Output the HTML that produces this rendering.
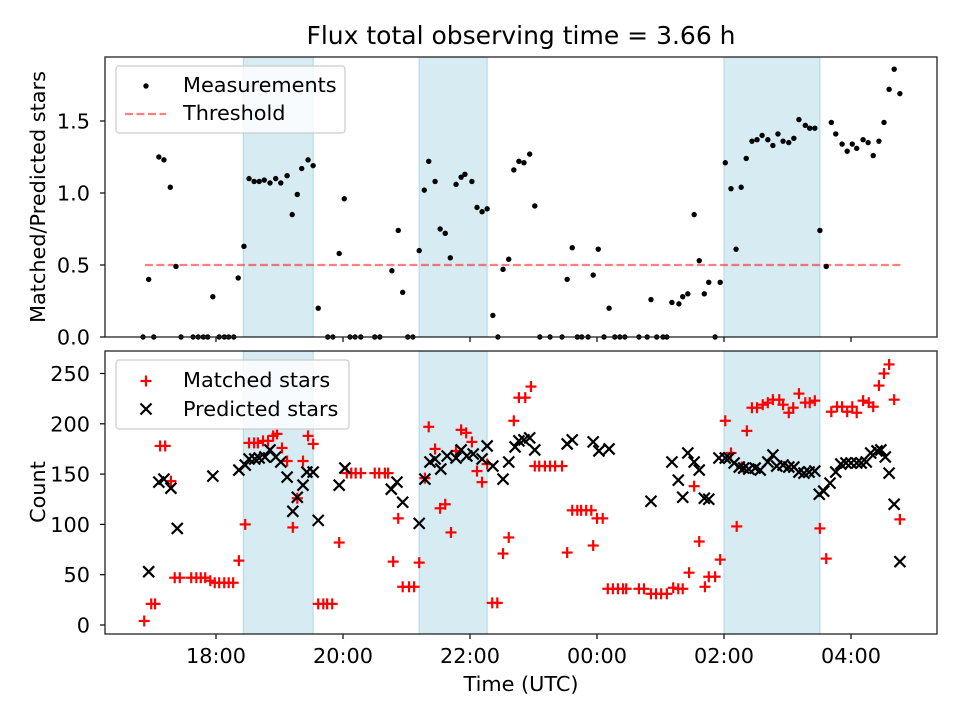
<!DOCTYPE html>
<html><head><meta charset="utf-8"><style>
body{margin:0;background:#fff}
svg{display:block;font-family:"DejaVu Sans","Liberation Sans",sans-serif}
</style></head><body>
<svg id="fig" width="960" height="720" viewBox="0 0 960 720" xmlns="http://www.w3.org/2000/svg">
<rect width="960" height="720" fill="#fff"/>
<text x="521" y="44" font-size="25" text-anchor="middle">Flux total observing time = 3.66 h</text>
<g id="top"></g>
<g id="bot"></g>
</svg>
<script>
// hours since 16:00 UTC
const shadeStart=[2.43,5.2,10.0];
const shadeEnd=[3.53,6.27,11.51];
const threshold=0.5;
const thrStart=0.88, thrEnd=12.79;
const xTickHours=[2,4,6,8,10,12];
const xTickLabels=["18:00","20:00","22:00","00:00","02:00","04:00"];
const topTicks=[0,0.5,1.0,1.5];
const topTickLabels=["0.0","0.5","1.0","1.5"];
const botTicks=[0,50,100,150,200,250];
const botTickLabels=["0","50","100","150","200","250"];

const measT=[0.85,0.94,1.02,1.10,1.18,1.28,1.37,1.45,1.64,1.72,1.80,1.87,1.95,2.05,2.13,2.20,2.28,2.35,2.44,2.52,2.60,2.68,2.76,2.85,2.94,3.02,3.12,3.20,3.28,3.35,3.45,3.53,3.61,3.76,3.84,3.94,4.02,4.11,4.19,4.28,4.50,4.58,4.77,4.87,4.94,5.02,5.10,5.20,5.28,5.35,5.45,5.53,5.61,5.69,5.78,5.86,5.92,6.03,6.11,6.19,6.27,6.36,6.44,6.52,6.61,6.69,6.77,6.85,6.94,7.02,7.10,7.26,7.45,7.53,7.61,7.69,7.76,7.86,7.94,8.02,8.11,8.19,8.28,8.36,8.44,8.66,8.79,8.85,8.94,9.04,9.10,9.18,9.29,9.35,9.43,9.53,9.61,9.69,9.76,9.86,9.94,10.02,10.11,10.19,10.27,10.35,10.44,10.52,10.60,10.69,10.77,10.85,10.93,11.02,11.10,11.18,11.28,11.35,11.43,11.51,11.61,11.69,11.76,11.86,11.94,12.02,12.09,12.19,12.27,12.35,12.44,12.52,12.60,12.68,12.77];
const measV=[0,0.40,0,1.25,1.23,1.04,0.49,0,0,0,0,0,0.28,0,0,0,0,0.41,0.63,1.10,1.08,1.08,1.09,1.07,1.10,1.07,1.12,0.85,0.99,1.17,1.23,1.19,0.20,0,0,0.58,0.96,0,0,0,0,0,0.46,0.74,0.31,0,0,0.60,1.02,1.22,1.08,0.75,0.72,0.55,1.06,1.11,1.13,1.08,0.90,0.87,0.89,0.15,0,0.47,0.54,1.16,1.22,1.21,1.27,0.91,0,0,0,0.40,0.62,0,0,0,0.43,0.61,0,0.20,0,0,0,0,0,0.26,0,0,0,0.24,0.23,0.28,0.30,0.85,0.53,0.30,0.38,0,0.38,1.21,1.03,0.61,1.04,1.24,1.36,1.37,1.40,1.37,1.33,1.41,1.36,1.35,1.38,1.51,1.47,1.45,1.45,0.74,0.49,1.49,1.41,1.34,1.29,1.34,1.31,1.37,1.35,1.26,1.36,1.49,1.72,1.86,1.69];

const matchT=[0.87,0.98,1.04,1.12,1.20,1.29,1.35,1.43,1.61,1.69,1.76,1.83,1.91,1.98,2.05,2.13,2.20,2.27,2.36,2.46,2.52,2.60,2.66,2.74,2.82,2.90,2.96,3.04,3.12,3.21,3.28,3.37,3.45,3.53,3.61,3.69,3.75,3.83,3.94,4.06,4.13,4.20,4.28,4.50,4.57,4.66,4.71,4.79,4.87,4.94,5.04,5.12,5.20,5.29,5.35,5.45,5.53,5.61,5.70,5.78,5.86,5.94,6.03,6.11,6.19,6.27,6.35,6.43,6.52,6.61,6.69,6.77,6.87,6.96,7.02,7.09,7.18,7.26,7.34,7.45,7.53,7.61,7.69,7.75,7.83,7.91,7.94,8.00,8.09,8.17,8.25,8.33,8.41,8.46,8.66,8.74,8.85,8.93,9.01,9.10,9.20,9.28,9.35,9.45,9.53,9.61,9.70,9.76,9.86,9.94,10.02,10.11,10.20,10.28,10.36,10.44,10.52,10.61,10.69,10.77,10.87,10.93,11.02,11.09,11.18,11.28,11.35,11.43,11.51,11.61,11.69,11.78,11.86,11.94,12.02,12.09,12.19,12.28,12.35,12.44,12.52,12.60,12.68,12.77];
const matchV=[4,21,21,178,178,143,47,47,47,47,47,47,44,42,42,42,42,42,64,100,181,181,181,183,183,188,190,176,163,97,126,163,188,180,21,21,21,21,82,151,151,151,151,151,151,151,151,63,106,38,38,38,62,146,197,175,116,120,92,173,194,191,182,153,142,160,22,22,71,87,203,226,226,237,158,158,158,158,158,158,72,114,114,114,114,114,79,106,106,36,36,36,36,36,36,36,31,31,31,31,37,36,36,52,138,83,38,48,48,65,203,171,98,157,193,216,216,219,221,224,224,219,211,216,230,221,221,223,96,66,212,217,217,212,217,211,223,221,217,238,250,259,224,105];

const predT=[0.94,1.10,1.18,1.29,1.39,1.95,2.36,2.46,2.52,2.61,2.68,2.77,2.85,2.94,3.02,3.12,3.21,3.28,3.37,3.43,3.53,3.61,3.94,4.03,4.76,4.85,4.94,5.20,5.29,5.37,5.45,5.54,5.64,5.78,5.86,5.95,6.05,6.19,6.27,6.36,6.52,6.61,6.71,6.77,6.85,6.94,7.02,7.53,7.61,7.94,8.03,8.19,8.85,9.18,9.28,9.35,9.43,9.53,9.61,9.69,9.76,9.92,10.02,10.08,10.16,10.24,10.31,10.39,10.49,10.57,10.69,10.77,10.83,10.93,11.02,11.10,11.18,11.26,11.34,11.43,11.50,11.57,11.67,11.76,11.84,11.92,12.00,12.09,12.16,12.24,12.31,12.41,12.47,12.54,12.60,12.68,12.77];
const predV=[53,142,145,136,96,148,154,159,165,165,166,167,174,167,162,147,113,127,139,152,152,104,139,156,135,142,122,101,145,162,165,155,168,166,174,168,170,165,178,158,145,162,177,183,184,186,174,180,184,182,173,175,123,162,144,127,171,162,154,126,125,166,166,166,161,157,156,155,156,154,162,169,158,159,157,157,152,151,152,153,130,133,141,152,160,161,161,161,161,162,171,173,174,167,151,120,63];

const NS="http://www.w3.org/2000/svg";
const L=105,R=937;
const FS=20.8;
const xs=h=>89+63.5*h;
function el(p,tag,a){const e=document.createElementNS(NS,tag);for(const k in a)e.setAttribute(k,a[k]);p.appendChild(e);return e;}
function txt(p,s,a){const e=el(p,'text',a);e.textContent=s;return e;}

function panel(g,T,B,ticks,labels,ys,showX){
  for(let i=0;i<shadeStart.length;i++){
    const r=el(g,'rect',{x:xs(shadeStart[i]),y:T,width:xs(shadeEnd[i])-xs(shadeStart[i]),height:B-T,fill:'#add8e6','fill-opacity':0.5,stroke:'#add8e6','stroke-width':1});
    
    
  }
  ticks.forEach((t,i)=>{
    const y=ys(t);
    el(g,'line',{x1:L-5,x2:L,y1:y,y2:y,stroke:'#000','stroke-width':1.2});
    const tl=txt(g,labels[i],{x:L-15,y:y+7.5,'font-size':FS,'text-anchor':'end'});
    
    
  });
  xTickHours.forEach((h,i)=>{
    el(g,'line',{x1:xs(h),x2:xs(h),y1:B,y2:B+5,stroke:'#000','stroke-width':1.2});
    if(showX){
      const tl=txt(g,xTickLabels[i],{x:xs(h),y:B+29,'font-size':FS,'text-anchor':'middle'});
      
      
    }
  });
}
function frame(g,T,B){el(g,'rect',{x:L,y:T,width:R-L,height:B-T,fill:'none',stroke:'#222','stroke-width':1.3});}

// top panel
const gt=document.getElementById('top');
const T1=57,B1=337; const y1=v=>B1-144*v;
panel(gt,T1,B1,topTicks,topTickLabels,y1,false);
const thr=el(gt,'line',{x1:xs(thrStart),x2:xs(thrEnd),y1:y1(threshold),y2:y1(threshold),stroke:'#ff0000','stroke-opacity':0.5,'stroke-width':2.2,'stroke-dasharray':'8,3.5'});


measT.forEach((t,i)=>{
  const c=el(gt,'circle',{cx:xs(t),cy:y1(measV[i]),r:2.7,fill:'#000'});
  
  
});
frame(gt,T1,B1);
const yt1=txt(gt,'Matched/Predicted stars',{x:0,y:0,'font-size':FS,'text-anchor':'middle',transform:'translate(45,197) rotate(-90)'});


const lg1=el(gt,'g',{});


el(lg1,'rect',{x:116,y:66,width:229,height:67,rx:3,fill:'#fff','fill-opacity':0.8,stroke:'#ccc','stroke-width':1.2});
el(lg1,'circle',{cx:146,cy:86,r:2.7,fill:'#000'});
txt(lg1,'Measurements',{x:183,y:92,'font-size':FS});
el(lg1,'line',{x1:125,x2:166,y1:114,y2:114,stroke:'#ff0000','stroke-opacity':0.5,'stroke-width':2.2,'stroke-dasharray':'8,3.5'});
txt(lg1,'Threshold',{x:183,y:120,'font-size':FS});

// bottom panel
const gb=document.getElementById('bot');
const T2=351,B2=634; const y2=v=>625-1.006*v;
panel(gb,T2,B2,botTicks,botTickLabels,y2,true);
function plus(p,x,y,name){const g=el(p,'g',{stroke:'#ff0000','stroke-width':2.2});
  
  
  el(g,'line',{x1:x-5.5,x2:x+5.5,y1:y,y2:y});el(g,'line',{x1:x,x2:x,y1:y-5.5,y2:y+5.5});}
function cross(p,x,y,name){const g=el(p,'g',{stroke:'#000','stroke-width':2.2});
  
  
  el(g,'line',{x1:x-5.5,x2:x+5.5,y1:y-5.5,y2:y+5.5});el(g,'line',{x1:x-5.5,x2:x+5.5,y1:y+5.5,y2:y-5.5});}
matchT.forEach((t,i)=>plus(gb,xs(t),y2(matchV[i]),'matched-point'));
predT.forEach((t,i)=>cross(gb,xs(t),y2(predV[i]),'predicted-point'));
frame(gb,T2,B2);
const yt2=txt(gb,'Count',{x:0,y:0,'font-size':FS,'text-anchor':'middle',transform:'translate(45,492) rotate(-90)'});


const xt=txt(gb,'Time (UTC)',{x:521,y:691,'font-size':FS,'text-anchor':'middle'});


const lg2=el(gb,'g',{});


el(lg2,'rect',{x:116,y:360,width:233,height:69,rx:3,fill:'#fff','fill-opacity':0.8,stroke:'#ccc','stroke-width':1.2});
plus(lg2,146,381,'legend-matched-marker');
txt(lg2,'Matched stars',{x:183,y:387,'font-size':FS});
cross(lg2,146,409,'legend-predicted-marker');
txt(lg2,'Predicted stars',{x:183,y:416,'font-size':FS});
</script>
</body></html>
